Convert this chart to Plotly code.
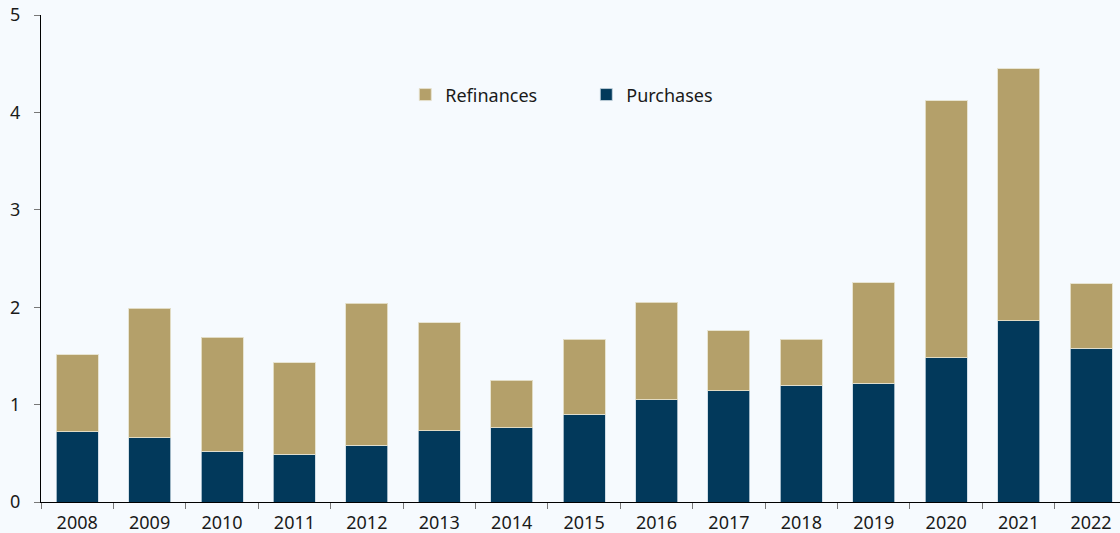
import plotly.graph_objects as go

years = [str(y) for y in range(2008, 2023)]
purchases = [0.72, 0.66, 0.52, 0.49, 0.585, 0.73, 0.76, 0.90, 1.05, 1.14, 1.20, 1.22, 1.48, 1.86, 1.58]
totals = [1.51, 1.99, 1.69, 1.43, 2.04, 1.84, 1.25, 1.67, 2.05, 1.76, 1.67, 2.25, 4.12, 4.45, 2.24]
refinances = [round(t - p, 3) for t, p in zip(totals, purchases)]

NAVY = "#02395B"
TAN = "#B4A06A"
BG = "#F6FAFE"

fig = go.Figure()
fig.add_trace(go.Bar(x=years, y=purchases, name="Purchases", marker=dict(color=NAVY, line=dict(color="rgba(200,215,225,0.8)", width=1)), width=0.58))
fig.add_trace(go.Bar(x=years, y=refinances, name="Refinances", marker=dict(color=TAN, line=dict(color="rgba(230,225,205,0.9)", width=1)), width=0.58))

fig.update_layout(
    width=1120, height=533,
    barmode="stack",
    paper_bgcolor=BG, plot_bgcolor=BG,
    margin=dict(l=41, r=0, t=15, b=31),
    font=dict(family="Noto Sans, Open Sans, sans-serif", size=18, color="#1a1a1a"),
    showlegend=True,
    legend=dict(orientation="h", x=0.3376, y=0.836, xanchor="left", yanchor="middle",
                traceorder="reversed", bgcolor="rgba(0,0,0,0)", font=dict(size=18),
                entrywidth=136, itemwidth=30),
)
fig.update_xaxes(type="category", range=[-0.5, 14.4], showline=True, linecolor="#000", linewidth=1.2,
                 ticks="outside", tickson="boundaries", ticklen=6, tickcolor="#777", showgrid=False,
                 ticklabelstandoff=4)
fig.update_yaxes(range=[0, 5], tickvals=[0, 1, 2, 3, 4, 5], showline=True, linecolor="#000", linewidth=1.2,
                 ticks="outside", ticklen=6, tickcolor="#777", showgrid=False, zeroline=False,
                 ticklabelstandoff=10)

fig.write_html("out.html", config={"displayModeBar": False},
               post_script="document.body.style.margin='0';document.body.style.background='%s';" % BG)
